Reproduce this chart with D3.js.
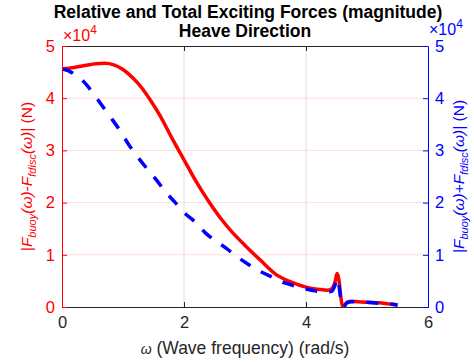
<!DOCTYPE html>
<html><head><meta charset="utf-8">
<script src="https://cdn.jsdelivr.net/npm/d3@7"></script>
<style>body{margin:0;background:#fff;} svg{display:block;font-family:"Liberation Sans",Arial,sans-serif;}</style>
</head><body><svg id="c" width="474" height="362"></svg>
<script>
const omegaRel = [0,0.2,0.4,0.55,0.7,0.85,1.0,1.15,1.3,1.45,1.6,1.8,2.0,2.2,2.4,2.6,2.8,3.0,3.25,3.5,3.75,4.0,4.2,4.35,4.43,4.48,4.51,4.54,4.57,4.6,4.63,4.67,4.75,4.85,5.0,5.2,5.35,5.5];
const relForce = [4.56,4.59,4.63,4.66,4.67,4.64,4.55,4.40,4.21,3.96,3.68,3.24,2.82,2.40,2.03,1.70,1.42,1.18,0.90,0.63,0.48,0.38,0.34,0.32,0.36,0.50,0.64,0.52,0.20,0.02,0.03,0.09,0.11,0.10,0.09,0.08,0.06,0.04];
const omegaTot = [0,0.1,0.2,0.3,0.4,0.5,0.65,0.8,0.95,1.1,1.25,1.4,1.55,1.7,1.85,2.0,2.2,2.35,2.5,2.7,2.85,3.05,3.25,3.45,3.65,3.9,4.1,4.3,4.42,4.47,4.51,4.54,4.57,4.6,4.63,4.67,4.75,4.85,5.0,5.2,5.35,5.5];
const totForce = [4.56,4.53,4.46,4.38,4.26,4.11,3.87,3.63,3.38,3.10,2.86,2.64,2.43,2.20,2.01,1.81,1.61,1.42,1.28,1.12,0.98,0.82,0.68,0.57,0.46,0.38,0.32,0.28,0.30,0.40,0.55,0.42,0.15,0.0,0.02,0.08,0.10,0.10,0.09,0.07,0.06,0.04];
const xTicks = [0,2,4,6];
const yTicks = [0,1,2,3,4,5];
const titleLines = ["Relative and Total Exciting Forces (magnitude)","Heave Direction"];
const xLabelSymbol = "\u03c9";
const xLabelText = " (Wave frequency) (rad/s)";

const svg = d3.select("#c");
const L=62, R=428, T=46, B=307;
const x = d3.scaleLinear().domain([0,6]).range([L,R]);
const yL = d3.scaleLinear().domain([0,5]).range([B,T]);
const yR = d3.scaleLinear().domain([0,5]).range([B,T]);
const RED="#ff0000", BLUE="#0000ff", DARK="#262626";
const TF = "16.5px";

// grid
svg.append("g").selectAll("line").data(xTicks.filter(d=>d>0&&d<6)).join("line")
 .attr("x1",d=>x(d)).attr("x2",d=>x(d)).attr("y1",T).attr("y2",B).attr("stroke","#dfdfdf").attr("stroke-width",1);
svg.append("g").selectAll("line").data(yTicks.filter(d=>d>0&&d<5)).join("line")
 .attr("x1",L).attr("x2",R).attr("y1",d=>yL(d)).attr("y2",d=>yL(d)).attr("stroke","#ffdcdc").attr("stroke-width",1);

// lines
const lineRel = d3.line().x((d,i)=>x(omegaRel[i])).y(d=>yL(d)).curve(d3.curveMonotoneX);
const lineTot = d3.line().x((d,i)=>x(omegaTot[i])).y(d=>yR(d)).curve(d3.curveMonotoneX);
svg.append("path").attr("d",lineRel(relForce)).attr("fill","none").attr("stroke",RED).attr("stroke-width",3.5);
svg.append("path").attr("d",lineTot(totForce)).attr("fill","none").attr("stroke",BLUE).attr("stroke-width",3.5).attr("stroke-dasharray","12,12");

// axes frame
svg.append("line").attr("x1",L).attr("x2",R).attr("y1",T+0.5).attr("y2",T+0.5).attr("stroke",DARK);
const xb = svg.append("g").attr("transform",`translate(0,${B})`)
 .call(d3.axisBottom(x).tickValues(xTicks).tickSize(-5).tickPadding(9).tickFormat(d3.format("d")));
xb.select(".domain").attr("stroke",DARK);
xb.selectAll(".tick line").attr("stroke",DARK);
xb.selectAll("text").attr("fill",DARK).style("font-size",TF).style("font-family","Liberation Sans, Arial, sans-serif");
const xt = svg.append("g").attr("transform",`translate(0,${T})`)
 .call(d3.axisTop(x).tickValues(xTicks.filter(d=>d>0&&d<6)).tickSize(-5).tickFormat(""));
xt.select(".domain").remove(); xt.selectAll(".tick line").attr("stroke",DARK);

const yl = svg.append("g").attr("transform",`translate(${L},0)`)
 .call(d3.axisLeft(yL).tickValues(yTicks).tickSize(-5).tickPadding(7).tickFormat(d3.format("d")));
yl.select(".domain").attr("stroke",RED);
yl.selectAll(".tick line").attr("stroke",RED);
yl.selectAll("text").attr("fill",RED).style("font-size",TF).style("font-family","Liberation Sans, Arial, sans-serif");

const yr = svg.append("g").attr("transform",`translate(${R},0)`)
 .call(d3.axisRight(yR).tickValues(yTicks).tickSize(-5).tickPadding(7).tickFormat(d3.format("d")));
yr.select(".domain").attr("stroke",BLUE);
yr.selectAll(".tick line").attr("stroke",BLUE);
yr.selectAll("text").attr("fill",BLUE).style("font-size",TF).style("font-family","Liberation Sans, Arial, sans-serif");

// multipliers
function mult(xp,yp,col){
  const t=svg.append("text").attr("x",xp).attr("y",yp).attr("fill",col).style("font-size","16px");
  t.append("tspan").text("\u00d710");
  t.append("tspan").attr("dy",-7).style("font-size","12px").text("4");
}
mult(63,41,RED);
mult(429,35,BLUE);

// title
svg.append("text").attr("x",(L+R)/2+3).attr("y",18).attr("text-anchor","middle").style("font-weight","bold").style("font-size","17.5px").attr("fill","#000").text(titleLines[0]);
svg.append("text").attr("x",(L+R)/2).attr("y",37).attr("text-anchor","middle").style("font-weight","bold").style("font-size","17.5px").attr("fill","#000").text(titleLines[1]);

// x label
const xl = svg.append("text").attr("x",(L+R)/2).attr("y",354).attr("text-anchor","middle").attr("fill",DARK).style("font-size","17.5px");
xl.append("tspan").style("font-style","italic").style("font-size","14px").text(xLabelSymbol);
xl.append("tspan").text(xLabelText);

// y labels
function ylab(xp,sign,col){
  const t=svg.append("text").attr("transform",`translate(${xp},${(T+B)/2}) rotate(-90)`).attr("text-anchor","middle").attr("fill",col).style("font-size","15.5px");
  t.append("tspan").style("font-style","italic").text("|F");
  t.append("tspan").style("font-style","italic").style("font-size","11px").attr("dy",4).text("buoy");
  t.append("tspan").attr("dy",-4).style("font-style","italic").text("(\u03c9)");
  t.append("tspan").text(sign);
  t.append("tspan").style("font-style","italic").text("F");
  t.append("tspan").style("font-style","italic").style("font-size","11px").attr("dy",4).text("fdisc");
  t.append("tspan").attr("dy",-4).style("font-style","italic").text("(\u03c9)|");
  t.append("tspan").text(" (N)");
}
ylab(32,"-",RED);
ylab(464,"+",BLUE);
</script></body></html>
